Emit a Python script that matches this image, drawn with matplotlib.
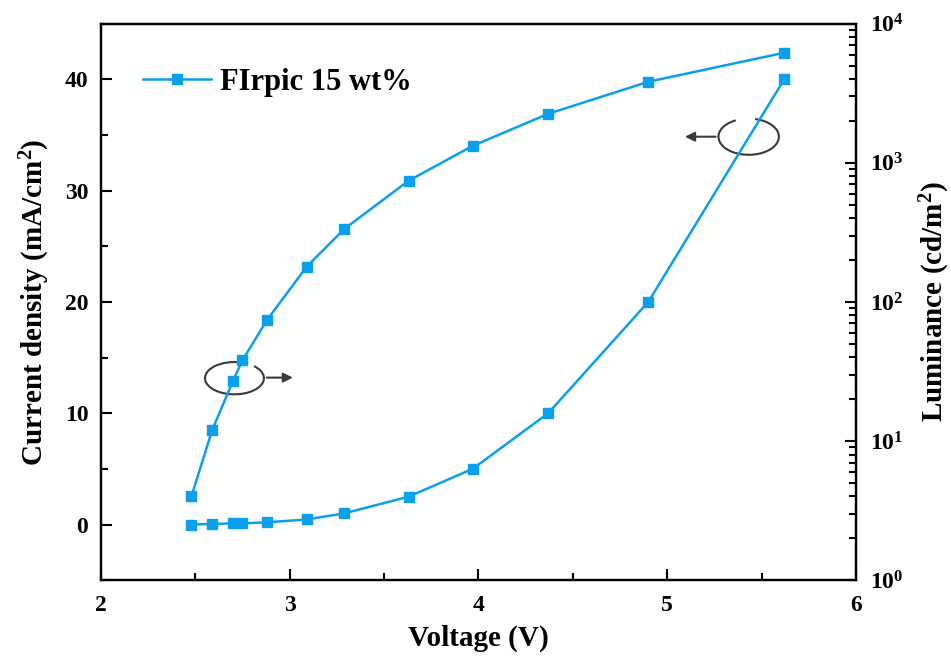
import matplotlib
matplotlib.use("Agg")
import matplotlib.pyplot as plt
from matplotlib.patches import Arc
from matplotlib.ticker import MultipleLocator, LogLocator, NullFormatter

# Data
voltage = [2.48, 2.59, 2.70, 2.75, 2.88, 3.09, 3.29, 3.63, 3.97, 4.37, 4.90, 5.62]
current_density = [0.0, 0.05, 0.1, 0.1, 0.2, 0.45, 1.0, 2.5, 5.0, 10.0, 20.0, 40.0]
luminance = [4.0, 12.0, 27, 38, 74, 179, 335, 743, 1325, 2252, 3828, 6186]

series_label = "FIrpic 15 wt%"
color = "#0AA0EE"

plt.rcParams["font.family"] = "Liberation Serif"
plt.rcParams["font.weight"] = "bold"
plt.rcParams["mathtext.fontset"] = "custom"
plt.rcParams["mathtext.rm"] = "Liberation Serif:bold"
plt.rcParams["mathtext.bf"] = "Liberation Serif:bold"
plt.rcParams["mathtext.it"] = "Liberation Serif:bold:italic"

fig = plt.figure(figsize=(9.51, 6.6), dpi=100)
ax = fig.add_axes([0.106, 0.121, 0.794, 0.843])
ax2 = ax.twinx()

ax.plot(voltage, current_density, color=color, marker="s", markersize=7.5,
        linewidth=1.8, label=series_label)
ax2.plot(voltage, luminance, color=color, marker="s", markersize=7.5,
         linewidth=1.8)

ax.set_xlim(2, 6)
ax.set_ylim(-5, 45)
ax.xaxis.set_major_locator(MultipleLocator(1))
ax.xaxis.set_minor_locator(MultipleLocator(0.5))
ax.yaxis.set_major_locator(MultipleLocator(10))
ax.yaxis.set_minor_locator(MultipleLocator(5))

ax2.set_yscale("log")
ax2.set_ylim(1, 1e4)
ax2.yaxis.set_major_locator(LogLocator(base=10, numticks=10))
ax2.yaxis.set_minor_locator(LogLocator(base=10, subs=range(2, 10), numticks=20))
ax2.yaxis.set_minor_formatter(NullFormatter())

for a in (ax, ax2):
    for s in a.spines.values():
        s.set_linewidth(1.6)
ax.tick_params(axis="both", which="both", direction="in", labelsize=17,
               top=False, right=False, width=1.5)
ax.tick_params(axis="x", which="major", length=8, pad=11)
ax.tick_params(axis="y", which="major", length=8, pad=9)
ax.tick_params(which="minor", length=5)
ax2.tick_params(axis="y", which="both", direction="in", labelsize=17,
                width=1.5, pad=10)
ax2.tick_params(which="major", length=8)
ax2.tick_params(which="minor", length=5)

ax.set_xlabel("Voltage (V)", fontsize=21, fontweight="bold", labelpad=6)
ax.set_ylabel(r"Current density (mA/cm$^{2}$)", fontsize=21,
              fontweight="bold", labelpad=9)
ax2.set_ylabel(r"Luminance (cd/m$^{2}$)", fontsize=21, fontweight="bold",
               labelpad=10)

leg = ax.legend(loc="upper left", bbox_to_anchor=(0.02, 0.97), frameon=False,
                prop={"family": "Liberation Serif", "weight": "bold", "size": 22},
                handlelength=2.2, handletextpad=0.3)

# curl annotations pointing to the axis of each curve
arc_col = "#3a3a3a"
arc1 = Arc((0.177, 0.363), 0.078, 0.058, transform=ax.transAxes,
           theta1=60, theta2=400, color=arc_col, linewidth=1.5)
ax.add_patch(arc1)
ax.annotate("", xy=(0.258, 0.364), xytext=(0.216, 0.364),
            xycoords="axes fraction",
            arrowprops=dict(arrowstyle="-|>", color=arc_col, lw=1.5,
                            mutation_scale=14))
arc2 = Arc((0.858, 0.797), 0.080, 0.065, transform=ax.transAxes,
           theta1=-240, theta2=75, color=arc_col, linewidth=1.5)
ax.add_patch(arc2)
ax.annotate("", xy=(0.770, 0.797), xytext=(0.818, 0.797),
            xycoords="axes fraction",
            arrowprops=dict(arrowstyle="-|>", color=arc_col, lw=1.5,
                            mutation_scale=14))

fig.savefig("out.png", dpi=100)
